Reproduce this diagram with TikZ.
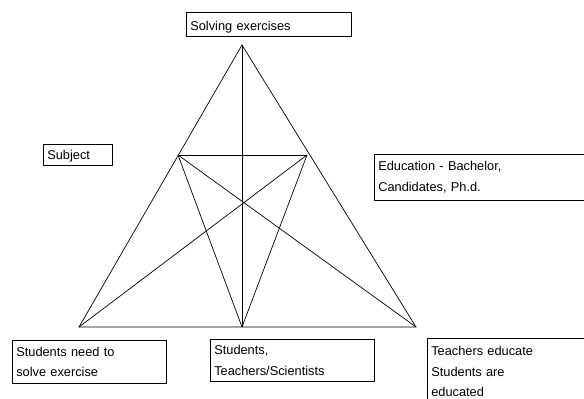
\documentclass[tikz,border=0pt]{standalone}
\usepackage{fontspec}
\setmainfont{Liberation Sans}
\usetikzlibrary{positioning}

\tikzset{
    labelbox/.style={draw, anchor=north west, align=left, inner xsep=4pt,
        inner ysep=0pt, line width=0.6pt,
        font=\fontsize{12.8}{20.5}\selectfont},
    edge/.style={line width=0.7pt}
}

\begin{document}
\begin{tikzpicture}[x=1pt,y=-1pt]
    \clip (0,0) rectangle (584,399);

    % corners of the triangle
    \coordinate (top) at (242,45);
    \coordinate (bl) at (79,327);
    \coordinate (bm) at (242,327);
    \coordinate (br) at (416,327);
    \coordinate (il) at (178,155);
    \coordinate (ir) at (307,155);

    \draw[edge] (top) -- (bl) -- (br) -- cycle;
    \draw[edge] (top) -- (bm);
    \draw[edge] (il) -- (ir);
    \draw[edge] (il) -- (bm);
    \draw[edge] (il) -- (br);
    \draw[edge] (ir) -- (bm);
    \draw[edge] (ir) -- (bl);

    % labels
    \node[labelbox, text width=157pt, text height=18.5pt, text depth=5.5pt] (solving) at (186,12) {Solving exercises};
    \node[labelbox, text width=61pt, text height=15pt, text depth=6pt] (subject) at (43,144) {Subject};
    \node[labelbox, text width=222pt, minimum height=46pt] (education) at (374,154) {Education - Bachelor,\\Candidates, Ph.d.};
    \node[labelbox, text width=146pt, minimum height=43pt] (needsolve) at (12,340) {Students need to\\solve exercise};
    \node[labelbox, text width=156pt, minimum height=42pt] (studteach) at (210,339) {Students,\\Teachers/Scientists};
    \node[labelbox, text width=192pt, inner ysep=8pt] (educate) at (427,338) {Teachers educate\\Students are\\educated};
\end{tikzpicture}
\end{document}
